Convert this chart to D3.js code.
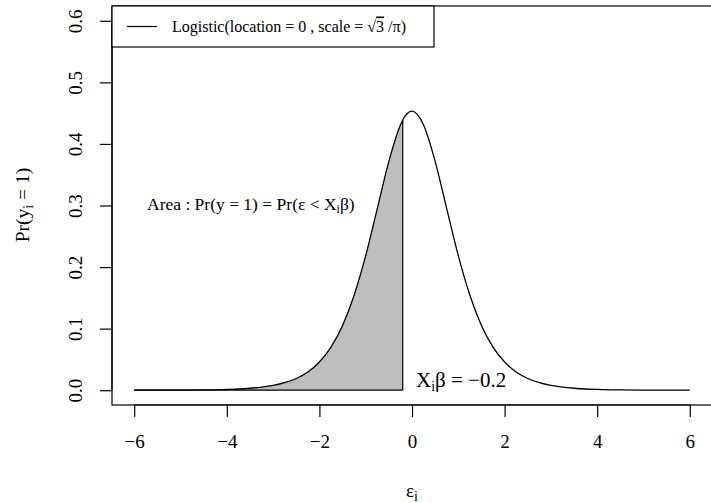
<!DOCTYPE html>
<html>
<head>
<meta charset="utf-8">
<script src="https://cdn.jsdelivr.net/npm/d3@7"></script>
<style>
  body { margin: 0; background: #fff; }
  svg text { font-family: "Liberation Serif", "Times New Roman", Times, serif !important; fill: #000; }
</style>
</head>
<body>
<div id="chart"></div>
<script>
// curve values (density of the errors)
const epsX = [-6, -5.5, -5, -4.5, -4, -3.75, -3.5, -3.25, -3, -2.75, -2.5, -2.25, -2, -1.75, -1.5, -1.25, -1, -0.75, -0.5, -0.25, -0.2,
              0, 0.25, 0.5, 0.75, 1, 1.25, 1.5, 1.75, 2, 2.25, 2.5, 2.75, 3, 3.25, 3.5, 3.75, 4, 4.5, 5, 5.5, 6];
const dens = [0.00003, 0.00009, 0.0002, 0.0005, 0.0013, 0.002, 0.0032, 0.005, 0.0078, 0.0122, 0.019, 0.0296, 0.0458, 0.0699, 0.1051, 0.1543, 0.2186, 0.2948, 0.3717, 0.4309, 0.4389,
              0.4534, 0.4309, 0.3717, 0.2948, 0.2186, 0.1543, 0.1051, 0.0699, 0.0458, 0.0296, 0.019, 0.0122, 0.0078, 0.005, 0.0032, 0.002, 0.0013, 0.0005, 0.0002, 0.00009, 0.00003];
const xbCut = -0.2;
const xTicks = [-6, -4, -2, 0, 2, 4, 6];
const yTicks = [0.0, 0.1, 0.2, 0.3, 0.4, 0.5, 0.6];

const serif = "Liberation Serif, Times New Roman, serif";
const width = 711, height = 503;
const svg = d3.select("#chart").append("svg")
    .attr("width", width)
    .attr("height", height)
    .attr("font-family", serif);

// scales (R style 4% padding on each side)
const x = d3.scaleLinear().domain([-6.48, 6.48]).range([112, 712]);
const y = d3.scaleLinear().domain([-0.024, 0.624]).range([405, 6]);

const pts = epsX.map((e, i) => ({ e: e, d: dens[i] }));
const shade = pts.filter(p => p.e <= xbCut);
const cutPt = shade[shade.length - 1];

// shaded area
svg.append("path")
    .datum(shade)
    .attr("fill", "#bebebe")
    .attr("d", d3.area().x(p => x(p.e)).y0(y(0)).y1(p => y(p.d)).curve(d3.curveMonotoneX));

// base line under the area + vertical cut
svg.append("line")
    .attr("x1", x(-6)).attr("x2", x(xbCut))
    .attr("y1", y(0)).attr("y2", y(0))
    .attr("stroke", "#000").attr("stroke-width", 1.2);
svg.append("line")
    .attr("x1", x(xbCut)).attr("x2", x(xbCut))
    .attr("y1", y(0)).attr("y2", y(cutPt.d))
    .attr("stroke", "#000").attr("stroke-width", 1.2);

// density curve
svg.append("path")
    .datum(pts)
    .attr("fill", "none")
    .attr("stroke", "#000")
    .attr("stroke-width", 1.3)
    .attr("d", d3.line().x(p => x(p.e)).y(p => y(p.d)).curve(d3.curveMonotoneX));

// plot box
svg.append("rect")
    .attr("x", 112).attr("y", 6)
    .attr("width", 620).attr("height", 399)
    .attr("fill", "none").attr("stroke", "#000").attr("stroke-width", 1.2);

// axes
const xAxis = svg.append("g")
    .attr("transform", "translate(0,405)")
    .call(d3.axisBottom(x).tickValues(xTicks).tickSize(12).tickPadding(18)
        .tickFormat(d => d < 0 ? "\u2212" + Math.abs(d) : d));
xAxis.attr("font-family", serif).attr("font-size", 19);
xAxis.select(".domain").attr("d", "M" + x(-6) + ",0H" + x(6)).attr("stroke-width", 1.2);
xAxis.selectAll("line").attr("stroke-width", 1.2);

const yAxis = svg.append("g")
    .attr("transform", "translate(112,0)")
    .call(d3.axisLeft(y).tickValues(yTicks).tickSize(12).tickFormat(d3.format(".1f")));
yAxis.attr("font-family", serif).attr("font-size", 19);
yAxis.select(".domain").attr("d", "M0," + y(0) + "V" + y(0.6)).attr("stroke-width", 1.2);
yAxis.selectAll("line").attr("stroke-width", 1.2);
yAxis.selectAll("text")
    .attr("x", null)
    .attr("text-anchor", "middle")
    .attr("transform", "translate(-37,0) rotate(-90)")
    .attr("y", 0).attr("dy", "0.35em");

// axis titles
const yl = svg.append("text")
    .attr("transform", "translate(29,205) rotate(-90)")
    .attr("text-anchor", "middle")
    .attr("font-size", 19.5);
yl.append("tspan").text("Pr(y");
yl.append("tspan").attr("font-size", 14).attr("dy", 4).text("i");
yl.append("tspan").attr("dy", -4).text(" = 1)");

const xl = svg.append("text")
    .attr("x", 412).attr("y", 497)
    .attr("text-anchor", "middle")
    .attr("font-size", 19);
xl.append("tspan").text("\u03b5");
xl.append("tspan").attr("font-size", 14).attr("dy", 4).text("i");

// annotations
const ann = svg.append("text")
    .attr("x", 147).attr("y", 210)
    .attr("font-size", 17.5);
ann.append("tspan").text("Area : Pr(y = 1) = Pr(\u03b5 < X");
ann.append("tspan").attr("font-size", 12).attr("dy", 3).text("i");
ann.append("tspan").attr("dy", -3).text("\u03b2)");

const cut = svg.append("text")
    .attr("x", 416).attr("y", 387)
    .attr("font-size", 21);
cut.append("tspan").text("X");
cut.append("tspan").attr("font-size", 14).attr("dy", 4).text("i");
cut.append("tspan").attr("dy", -4).text("\u03b2 = \u22120.2");

// legend
const lg = svg.append("g");
lg.append("rect")
    .attr("x", 112).attr("y", 6)
    .attr("width", 322).attr("height", 41)
    .attr("fill", "#fff").attr("stroke", "#000").attr("stroke-width", 1.2);
lg.append("line")
    .attr("x1", 127).attr("x2", 157)
    .attr("y1", 26.5).attr("y2", 26.5)
    .attr("stroke", "#000").attr("stroke-width", 1.2);
const lt = lg.append("text")
    .attr("x", 172).attr("y", 31.5)
    .attr("font-size", 16);
lt.append("tspan").text("Logistic(location = 0 , scale = \u221a");
lt.append("tspan").attr("text-decoration", "overline").text("3");
lt.append("tspan").text(" /\u03c0)");
</script>
</body>
</html>
